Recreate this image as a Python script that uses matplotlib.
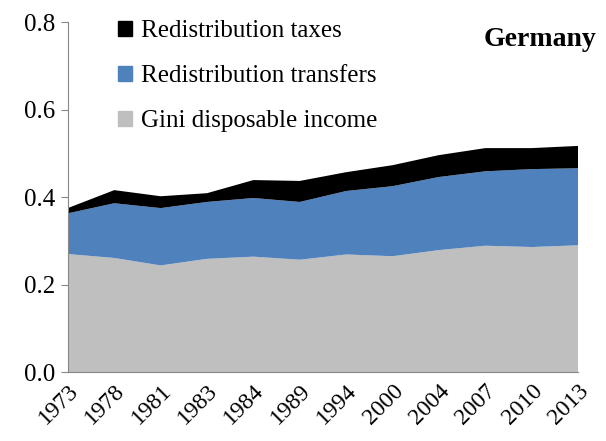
import numpy as np
import matplotlib
matplotlib.use("Agg")
import matplotlib.pyplot as plt
from matplotlib.patches import Patch

years = ["1973", "1978", "1981", "1983", "1984", "1989", "1994", "2000", "2004", "2007", "2010", "2013"]
gini_disp = [0.270, 0.261, 0.244, 0.259, 0.264, 0.257, 0.269, 0.265, 0.279, 0.289, 0.286, 0.290]
transfers = [0.093, 0.125, 0.131, 0.130, 0.134, 0.132, 0.145, 0.160, 0.167, 0.170, 0.178, 0.176]
taxes = [0.012, 0.030, 0.027, 0.020, 0.041, 0.048, 0.043, 0.048, 0.050, 0.053, 0.048, 0.051]

plt.rcParams["font.family"] = ["Liberation Serif", "DejaVu Serif"]

fig = plt.figure(figsize=(6.06, 4.41), dpi=100)
ax = fig.add_axes([0.112, 0.156, 0.842, 0.794])

x = np.arange(len(years))
colors = ["#bfbfbf", "#4f81bd", "#000000"]
ax.stackplot(x, gini_disp, transfers, taxes, colors=colors, linewidth=0)

ax.set_xlim(0, len(years) - 1)
ax.set_ylim(0, 0.8)
ax.set_yticks([0.0, 0.2, 0.4, 0.6, 0.8])
ax.set_yticklabels(["0.0", "0.2", "0.4", "0.6", "0.8"], fontsize=18)
ax.set_xticks(x)
ax.set_xticklabels(years, rotation=45, ha="right", rotation_mode="anchor", fontsize=17)
ax.tick_params(axis="x", length=0, pad=6)
ax.tick_params(axis="y", length=5, color="#888888", pad=4)

for s in ["top", "right"]:
    ax.spines[s].set_visible(False)
for s in ["left", "bottom"]:
    ax.spines[s].set_color("#888888")

handles = [Patch(color=colors[2]), Patch(color=colors[1]), Patch(color=colors[0])]
labels = ["Redistribution taxes", "Redistribution transfers", "Gini disposable income"]
ax.legend(handles, labels, loc="upper left", bbox_to_anchor=(0.055, 1.07), frameon=False,
          fontsize=18, handlelength=0.55, handleheight=0.55, handletextpad=0.35, labelspacing=0.92)

ax.text(1.035, 0.95, "Germany", transform=ax.transAxes, ha="right", va="center",
        fontsize=20, fontweight="bold")

fig.savefig("out.png", dpi=100)
